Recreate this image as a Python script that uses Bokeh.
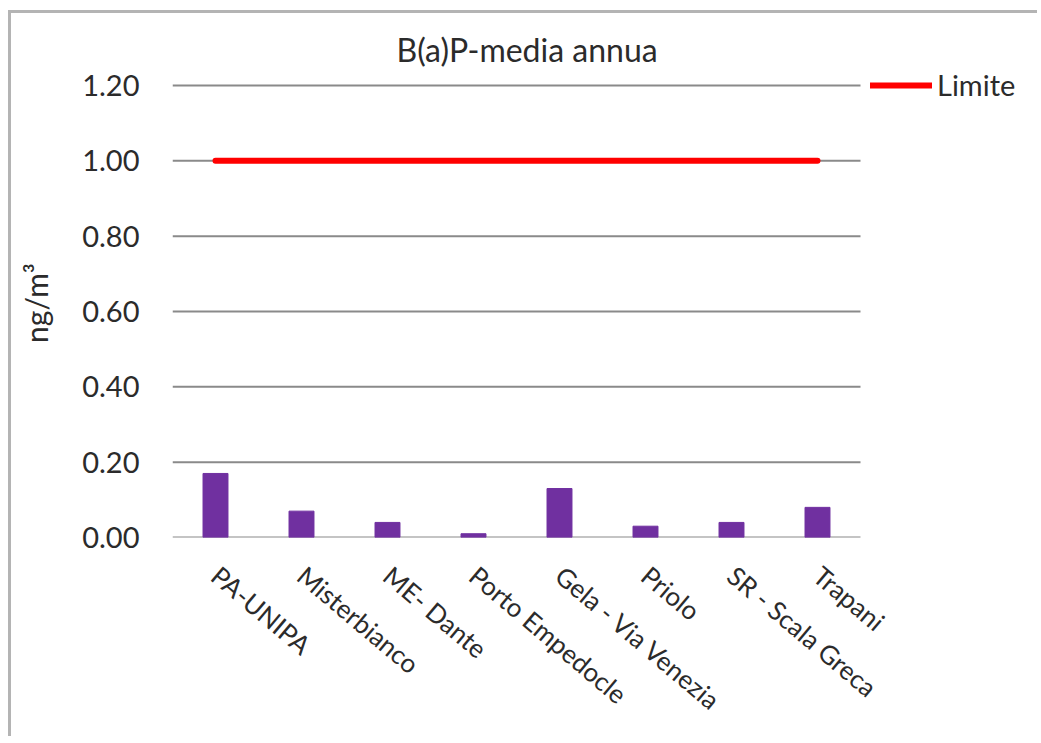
from bokeh.plotting import figure
from bokeh.models import ColumnDataSource, Legend, LegendItem, FixedTicker, NumeralTickFormatter
from bokeh.embed import file_html
from bokeh.resources import INLINE

stations = ["PA-UNIPA", "Misterbianco", "ME- Dante", "Porto Empedocle",
            "Gela - Via Venezia", "Priolo", "SR - Scala Greca", "Trapani"]
bap_media = [0.17, 0.07, 0.04, 0.01, 0.13, 0.03, 0.04, 0.08]
limite = [1.0, 1.0, 1.0, 1.0, 1.0, 1.0, 1.0, 1.0]
y_ticks = [0.0, 0.2, 0.4, 0.6, 0.8, 1.0, 1.2]

FONT = "Lato"
TXT = "#2b2b2b"

n = len(stations)
xpos = [i + 0.5 for i in range(n)]
src = ColumnDataSource(dict(x=xpos, y=bap_media, lim=limite))
grid_src = ColumnDataSource(dict(x0=[0] * len(y_ticks), x1=[n] * len(y_ticks),
                                 y=y_ticks))

# plot frame: categories occupy 688 px, extra room on the right holds the legend
W, H = 1029, 726
ML, MR, MT, MB = 161, 5, 55, 202
frame_w = W - ML - MR
frame_h = H - MT - MB
x_end = n * frame_w / 688.0

p = figure(x_range=(0, x_end), y_range=(0, 1.245), width=W, height=H,
           output_backend="svg", toolbar_location=None,
           min_border_left=ML, min_border_right=MR, min_border_top=MT, min_border_bottom=MB,
           title="B(a)P-media annua")
p.styles = {"border-left": "3px solid #b4b4b4", "border-top": "3px solid #b4b4b4",
            "margin-left": "8px", "margin-top": "10px"}

p.title.text_font = FONT
p.title.text_font_size = "32px"
p.title.text_font_style = "normal"
p.title.text_color = TXT
p.title.align = "left"
p.title.offset = 224
p.title.standoff = 0

p.outline_line_color = None
p.background_fill_color = "white"
p.border_fill_color = "white"

p.xgrid.grid_line_color = None
p.ygrid.grid_line_color = None

# horizontal gridlines limited to the category area
p.segment(x0="x0", x1="x1", y0="y", y1="y", source=grid_src,
          line_color="#8a8a8a", line_width=2)

p.vbar(x="x", top="y", width=0.29, source=src, color="#7030A0")
r_lim = p.line(x="x", y="lim", source=src, line_color="#FF0000", line_width=6, line_cap="round")

p.yaxis.ticker = FixedTicker(ticks=y_ticks)
p.yaxis.formatter = NumeralTickFormatter(format="0.00")
p.yaxis.axis_line_color = None
p.yaxis.major_tick_line_color = None
p.yaxis.minor_tick_line_color = None
p.yaxis.major_label_text_font = FONT
p.yaxis.major_label_text_font_size = "29px"
p.yaxis.major_label_text_color = TXT
p.yaxis.major_label_standoff = 27
p.yaxis.axis_label = "ng/m³"
p.yaxis.axis_label_text_font = FONT
p.yaxis.axis_label_text_font_size = "30px"
p.yaxis.axis_label_text_font_style = "normal"
p.yaxis.axis_label_text_color = TXT
p.yaxis.axis_label_standoff = 25

p.xaxis.ticker = FixedTicker(ticks=xpos)
p.xaxis.major_label_overrides = {x: s for x, s in zip(xpos, stations)}
p.xaxis.axis_line_color = None
p.xaxis.major_tick_line_color = None
p.xaxis.minor_tick_line_color = None
p.xaxis.major_label_orientation = -0.70
p.xaxis.major_label_text_font = FONT
p.xaxis.major_label_text_font_size = "26px"
p.xaxis.major_label_text_color = TXT
p.xaxis.major_label_standoff = 28

legend = Legend(items=[LegendItem(label="Limite", renderers=[r_lim])],
                location=(698, frame_h - 34), orientation="vertical",
                glyph_width=62, glyph_height=30, label_standoff=5,
                padding=0, margin=0, spacing=0,
                border_line_color=None, background_fill_alpha=0,
                label_text_font=FONT, label_text_font_size="29px", label_text_color=TXT)
p.add_layout(legend, "center")

open("out.html", "w").write(file_html(p, INLINE))
